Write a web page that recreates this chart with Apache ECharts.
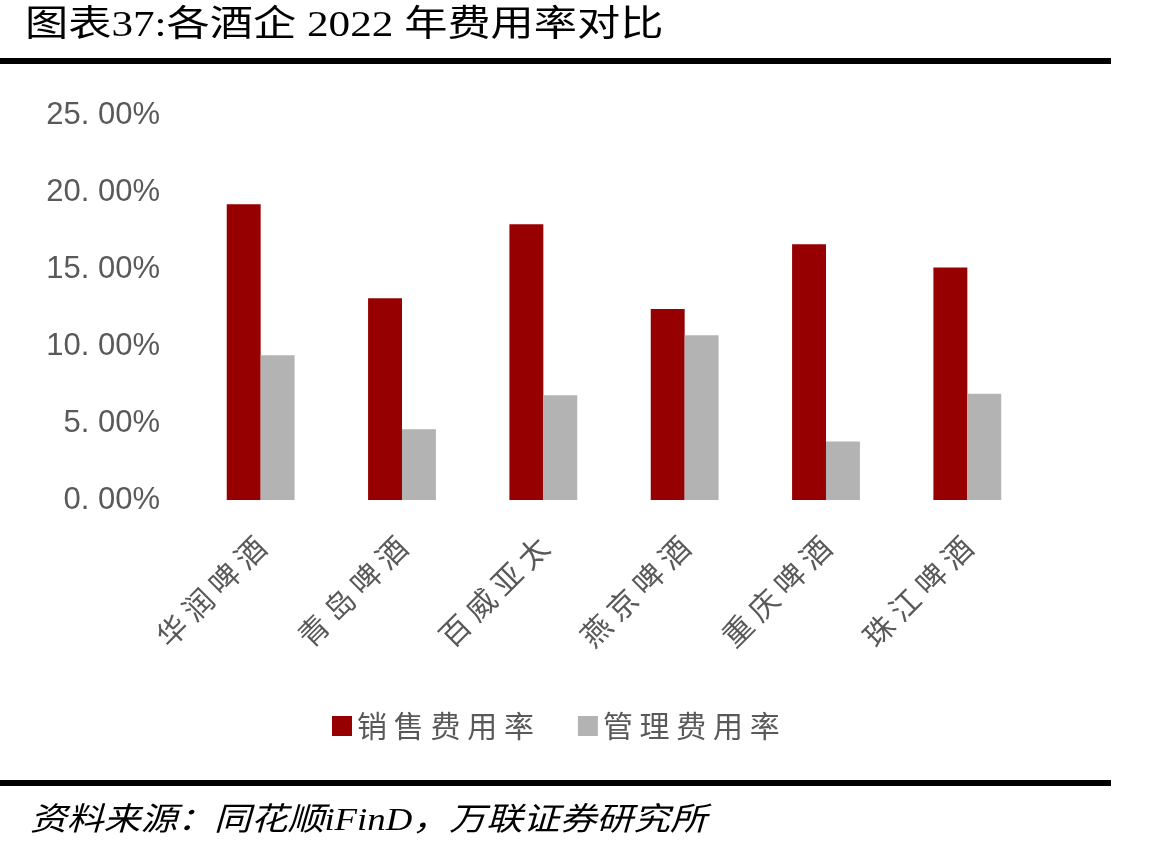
<!DOCTYPE html>
<html>
<head>
<meta charset="utf-8">
<title>各酒企2022年费用率对比</title>
<script src="https://cdn.jsdelivr.net/npm/echarts@6/dist/echarts.min.js"></script>
<style>
	html, body { margin: 0; padding: 0; background: #fff; }
	#main { width: 1175px; height: 852px; }
</style>
</head>
<body>
<div id="main"></div>
<script>
//各酒企2022年费用率
var companies = ['华润啤酒', '青岛啤酒', '百威亚太', '燕京啤酒', '重庆啤酒', '珠江啤酒'];
var salesRate = [19.2, 13.1, 17.9, 12.4, 16.6, 15.1];
var adminRate = [9.4, 4.6, 6.8, 10.7, 3.8, 6.9];
var seriesNames = ['销售费用率', '管理费用率'];
var yTicks = [0, 5, 10, 15, 20, 25];

var cjk = '"Noto Sans CJK SC"';

function spaced(s) {
	return s.split('').join(' ');
}

var option = {
	animation: false,
	color: ['#960000', '#B3B3B3'],
	graphic: [
		{
			type: 'text',
			left: 25,
			top: 9,
			scaleX: 1.2,
			style: {
				text: '图表37:各酒企 2022 年费用率对比',
				font: '36px "Liberation Serif", ' + cjk,
				fill: '#000'
			}
		},
		{
			type: 'rect',
			shape: { x: 0, y: 58, width: 1111, height: 6 },
			style: { fill: '#000' }
		},
		{
			type: 'rect',
			shape: { x: 0, y: 780, width: 1111, height: 6 },
			style: { fill: '#000' }
		},
		{
			type: 'text',
			left: 30,
			top: 806,
			scaleX: 1.15,
			style: {
				text: '资料来源：同花顺iFinD，万联证券研究所',
				font: 'italic 32px "Liberation Serif", ' + cjk,
				fill: '#000'
			}
		}
	],
	legend: {
		left: 327,
		top: 706,
		itemWidth: 20,
		itemHeight: 20,
		itemGap: 44,
		icon: 'rect',
		data: seriesNames,
		formatter: function (name) {
			return spaced(name);
		},
		textStyle: {
			fontFamily: cjk,
			fontSize: 30,
			color: '#595959'
		}
	},
	grid: {
		left: 190,
		right: 137,
		top: 115,
		bottom: 352
	},
	xAxis: {
		type: 'category',
		data: companies,
		axisLine: { show: false },
		axisTick: { show: false },
		axisLabel: {
			rotate: 45,
			margin: 42,
			interval: 0,
			fontFamily: cjk,
			fontSize: 30,
			color: '#595959',
			formatter: function (v) {
				return spaced(v);
			}
		}
	},
	yAxis: {
		type: 'value',
		min: yTicks[0],
		max: yTicks[yTicks.length - 1],
		interval: 5,
		splitLine: { show: false },
		axisLine: { show: false },
		axisTick: { show: false },
		axisLabel: {
			margin: 30,
			fontFamily: '"Liberation Sans"',
			fontSize: 31,
			color: '#595959',
			formatter: function (v) {
				return v.toFixed(2).replace('.', '. ') + '%';
			}
		}
	},
	series: [
		{
			name: seriesNames[0],
			type: 'bar',
			barGap: '0%',
			barCategoryGap: '52%',
			data: salesRate
		},
		{
			name: seriesNames[1],
			type: 'bar',
			data: adminRate
		}
	]
};

var myChart = echarts.init(document.getElementById('main'));
myChart.setOption(option);
</script>
</body>
</html>
